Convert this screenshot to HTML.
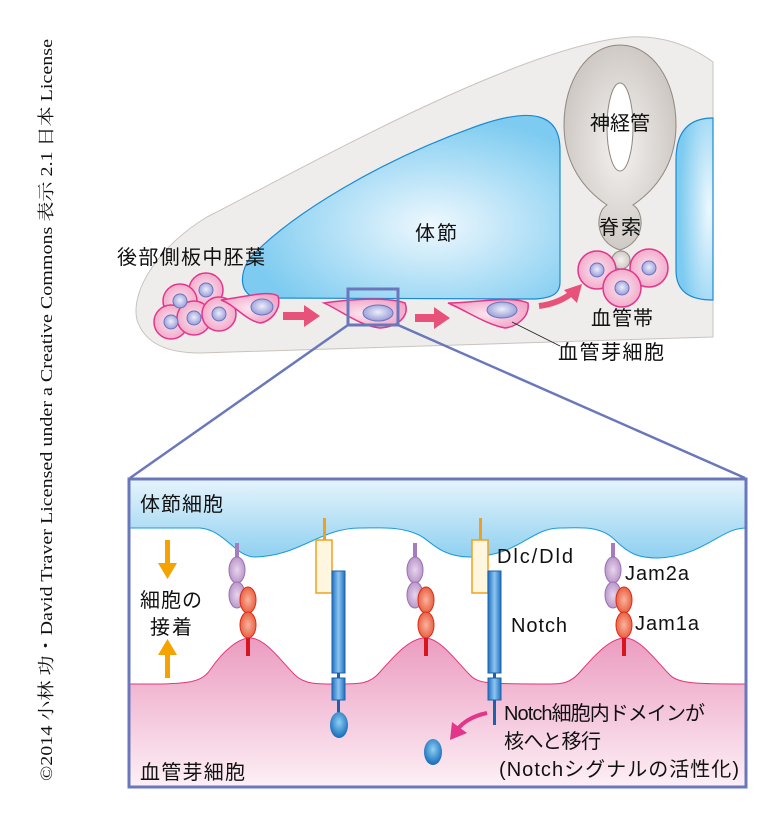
<!DOCTYPE html>
<html><head><meta charset="utf-8"><style>
body{margin:0;background:#fff;}
svg{display:block;}
text{font-family:"Liberation Sans","Noto Sans CJK JP",sans-serif;fill:#111;}
</style></head><body>
<svg width="783" height="819" viewBox="0 0 783 819">
<defs>
<radialGradient id="bl" cx="0.6" cy="0.6" r="0.6"><stop offset="0" stop-color="#eef8fe"/><stop offset="1" stop-color="#7dcbf0"/></radialGradient>
<radialGradient id="bl2" cx="0.9" cy="0.5" r="0.8"><stop offset="0" stop-color="#eef8fe"/><stop offset="1" stop-color="#7dcbf0"/></radialGradient>
<linearGradient id="tb" x1="0" y1="0" x2="0" y2="1"><stop offset="0" stop-color="#e6f4fc"/><stop offset="1" stop-color="#8fd0f0"/></linearGradient>
<linearGradient id="pk" x1="0" y1="0" x2="0" y2="1"><stop offset="0" stop-color="#eb9cc0"/><stop offset="1" stop-color="#fdf0f6"/></linearGradient>
<radialGradient id="cell" cx="0.5" cy="0.5" r="0.55"><stop offset="0" stop-color="#fde6f0"/><stop offset="1" stop-color="#f0a6c8"/></radialGradient>
<radialGradient id="nuc" cx="0.5" cy="0.45" r="0.6"><stop offset="0" stop-color="#eeeefa"/><stop offset="1" stop-color="#8e96d4"/></radialGradient>
<radialGradient id="gr" cx="0.5" cy="0.5" r="0.6"><stop offset="0" stop-color="#f4f2f0"/><stop offset="1" stop-color="#c8c2bd"/></radialGradient>
<linearGradient id="bar" x1="0" x2="1"><stop offset="0" stop-color="#1f6fbf"/><stop offset="0.5" stop-color="#8ec6f0"/><stop offset="1" stop-color="#1f6fbf"/></linearGradient>
<radialGradient id="drop" cx="0.5" cy="0.4" r="0.6"><stop offset="0" stop-color="#8fd0f5"/><stop offset="1" stop-color="#1469b8"/></radialGradient>
<radialGradient id="pu" cx="0.5" cy="0.5" r="0.6"><stop offset="0" stop-color="#e7d5ec"/><stop offset="1" stop-color="#b38cc4"/></radialGradient>
<radialGradient id="rd" cx="0.5" cy="0.5" r="0.6"><stop offset="0" stop-color="#f8b4a0"/><stop offset="1" stop-color="#e8502e"/></radialGradient>
</defs>

<text transform="translate(52,781) rotate(-90)" style="font-family:'Liberation Serif','Noto Serif CJK SC',serif;font-size:17px" textLength="742" lengthAdjust="spacingAndGlyphs">©2014 小林 功・David Traver Licensed under a Creative Commons 表示 2.1 日本 License</text>

<!-- body -->
<path d="M713,62 C690,45 660,35 630,37 C520,45 300,170 207,217 C160,245 130,290 137,320 C145,345 170,353 200,353 L713,337 Z" fill="#efedeb" stroke="#c9c3bd" stroke-width="1"/>
<path d="M258,298 C240,296 238,275 250,258 C290,215 380,160 480,125 C530,108 560,112 560,150 L560,282 C560,295 550,298 535,299 Z" fill="url(#bl)" stroke="#1a8ad4" stroke-width="1.2"/>
<path d="M713,118 C690,118 676,130 676,160 L676,270 C676,292 690,300 713,300 Z" fill="url(#bl2)" stroke="#1a8ad4" stroke-width="1.2"/>
<path d="M620,45 C588,45 564,80 564,125 C564,165 585,190 607,205 C595,212 594,242 620,250 C646,242 645,212 633,205 C655,190 676,165 676,125 C676,80 652,45 620,45 Z" fill="url(#gr)" stroke="#8f877f" stroke-width="1"/>
<ellipse cx="620" cy="127" rx="13" ry="44" fill="#fff" stroke="#8f877f"/>
<circle cx="621" cy="260" r="9" fill="url(#gr)" stroke="#8f877f"/>
<text x="620" y="130" font-size="20" text-anchor="middle" textLength="60">神経管</text>
<text x="620" y="234" font-size="20" text-anchor="middle" textLength="42">脊索</text>
<text x="436" y="240" font-size="20" text-anchor="middle" textLength="42">体節</text>
<text x="117" y="264" font-size="20" textLength="148">後部側板中胚葉</text>

<g stroke="#e2368a" stroke-width="1.5" fill="url(#cell)">
<circle cx="206" cy="290" r="17"/><circle cx="180" cy="301" r="17"/><circle cx="171" cy="322" r="17"/><circle cx="194" cy="318" r="17"/><circle cx="219" cy="314" r="17"/>
<path d="M221,300 C245,297 268,290 278,296 C282,310 270,322 260,323 C245,320 235,305 221,300 Z"/>
<path d="M324,303 C345,300 385,296 405,303 C410,316 398,327 380,328 C360,326 340,310 324,303 Z"/>
<path d="M448,303 C475,303 510,295 528,303 C530,318 515,327 505,328 C485,324 465,310 448,303 Z"/>
<circle cx="597" cy="270" r="19"/><circle cx="649" cy="268" r="19"/><circle cx="622" cy="288" r="19"/>
</g>
<g fill="url(#nuc)" stroke="#6a72c0" stroke-width="1">
<circle cx="206" cy="290" r="7"/><circle cx="180" cy="301" r="7"/><circle cx="171" cy="322" r="7"/><circle cx="194" cy="318" r="7"/><circle cx="219" cy="314" r="7"/>
<ellipse cx="262" cy="307" rx="11" ry="8"/><ellipse cx="378" cy="313" rx="15" ry="8"/><ellipse cx="502" cy="310" rx="15" ry="8"/>
<circle cx="597" cy="270" r="7"/><circle cx="649" cy="268" r="7"/><circle cx="622" cy="288" r="7"/>
</g>
<g fill="#e8517a">
<path d="M283,312 H304 V305 L320,316 L304,327 V320 H283 Z"/>
<path d="M415,314 H434 V307 L450,318 L434,329 V322 H415 Z"/>
</g>
<path d="M539,306 C555,304 566,298 573,292" stroke="#e8517a" stroke-width="6" fill="none"/>
<path d="M582,284 L564,290 L577,303 Z" fill="#e8517a"/>
<text x="622" y="325" font-size="20" text-anchor="middle" textLength="62">血管帯</text>
<line x1="512" y1="322" x2="560" y2="346" stroke="#222" stroke-width="0.8"/>
<text x="558" y="359" font-size="20" textLength="106">血管芽細胞</text>

<rect x="348" y="289" width="50" height="36" fill="none" stroke="#6a78bb" stroke-width="3"/>
<line x1="348" y1="325" x2="130" y2="478" stroke="#6a78bb" stroke-width="2.5"/>
<line x1="398" y1="325" x2="745" y2="478" stroke="#6a78bb" stroke-width="2.5"/>

<!-- panel -->
<rect x="129" y="479" width="617" height="308" fill="#fff"/>
<path d="M129,479 H746 V528 C720,528 705,556 658,558 C640,558 630,555 615,540 C600,525 580,528 560,528 C530,528 520,556 470,557 C440,557 430,540 419,535 C400,526 380,528 360,528 C320,528 300,556 255,557 C235,557 225,530 200,528 L129,528 Z" fill="url(#tb)" stroke="#1a9ad8" stroke-width="1"/>
<path d="M129,684 C180,684 200,685 210,670 C225,648 240,638 250,638 C265,638 280,660 295,675 C305,685 320,684 340,684 C360,684 370,684 380,672 C395,655 410,638 425,638 C440,638 455,660 470,675 C478,684 490,684 550,684 C560,684 570,684 580,672 C595,655 610,638 625,638 C640,638 655,660 670,675 C678,684 700,684 746,684 V787 H129 Z" fill="url(#pk)" stroke="#e2367a" stroke-width="1"/>
<rect x="129" y="479" width="617" height="308" fill="none" stroke="#6a78bb" stroke-width="3"/>

<text x="140" y="511" font-size="20" textLength="83">体節細胞</text>
<text x="140" y="779" font-size="20" textLength="105">血管芽細胞</text>
<text x="140" y="607" font-size="20" textLength="62">細胞の</text>
<text x="150" y="634" font-size="20" textLength="42">接着</text>
<g fill="#f5a300">
<rect x="165" y="540" width="5" height="24"/><path d="M158,563 H177 L167.5,579 Z"/>
<rect x="165" y="654" width="5" height="24"/><path d="M158,655 H177 L167.5,639 Z"/>
</g>

<g id="jam">
<rect x="235" y="543" width="4" height="14" fill="#a57cbf"/>
<ellipse cx="237" cy="570" rx="8" ry="13" fill="url(#pu)" stroke="#9a72b4"/>
<ellipse cx="237" cy="595" rx="8" ry="13" fill="url(#pu)" stroke="#9a72b4"/>
<ellipse cx="248" cy="600" rx="8" ry="13" fill="url(#rd)" stroke="#d8301a"/>
<ellipse cx="248" cy="625" rx="8" ry="13" fill="url(#rd)" stroke="#d8301a"/>
<rect x="246" y="638" width="4" height="18" fill="#d8141e"/>
</g>
<use href="#jam" x="178"/>
<use href="#jam" x="376"/>

<g id="notch">
<rect x="323" y="518" width="3" height="22" fill="#f0a020"/>
<rect x="316" y="540" width="16" height="53" fill="#fff6e0" stroke="#f0a020" stroke-width="1.5"/>
<rect x="332" y="571" width="13" height="102" fill="url(#bar)" stroke="#1a62b0"/>
<rect x="337" y="673" width="3" height="5" fill="#1a62b0"/>
<rect x="332" y="678" width="13" height="22" fill="url(#bar)" stroke="#1a62b0"/>
<rect x="337" y="700" width="3" height="13" fill="#1a62b0"/>
</g>
<ellipse cx="339" cy="725" rx="9" ry="13" fill="url(#drop)"/>
<use href="#notch" x="156"/>
<rect x="493" y="700" width="3" height="25" fill="#1a62b0"/>
<ellipse cx="433" cy="752" rx="9" ry="13" fill="url(#drop)"/>
<path d="M487,713 C472,716 462,723 457,730" stroke="#e2368a" stroke-width="4" fill="none"/>
<path d="M450,740 L452,722 L467,733 Z" fill="#e2368a"/>

<text x="497" y="563" font-size="20" textLength="76">Dlc/Dld</text>
<text x="625" y="580" font-size="20" textLength="64">Jam2a</text>
<text x="511" y="632" font-size="20" textLength="56">Notch</text>
<text x="635" y="630" font-size="20" textLength="64">Jam1a</text>
<text x="504" y="720" font-size="20" textLength="201">Notch細胞内ドメインが</text>
<text x="504" y="748" font-size="20" textLength="97">核へと移行</text>
<text x="499" y="776" font-size="20" textLength="240">(Notchシグナルの活性化)</text>
</svg>
</body></html>
